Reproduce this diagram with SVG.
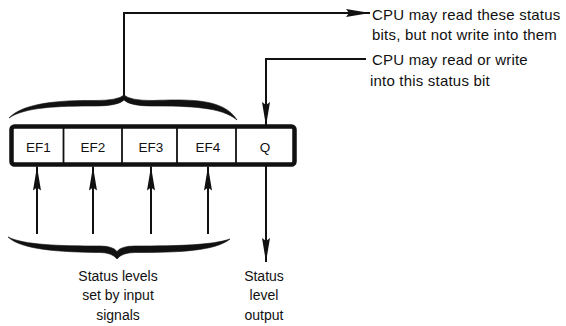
<svg xmlns="http://www.w3.org/2000/svg" width="566" height="326" viewBox="0 0 566 326">
<style>
  text { font-family: "Liberation Sans", Arial, sans-serif; fill: #111; }
  .cell { font-size: 13.5px; text-anchor: middle; }
  .lbl { font-size: 14px; }
  .rt { font-size: 15px; letter-spacing: 0.2px; }
  .mid { text-anchor: middle; }
  .wire { stroke: #111; stroke-width: 2; fill: none; }
  .brace { fill: #111; stroke: #111; stroke-width: 0.6; }
</style>
<defs>
  <marker id="ah" viewBox="0 0 24 8" refX="24" refY="4" markerWidth="24" markerHeight="8" markerUnits="userSpaceOnUse" orient="auto">
    <path d="M0,0 L24,4 L0,8 L3,4 Z" fill="#111"/>
  </marker>
</defs>
<rect width="566" height="326" fill="#fff"/>

<g id="register">
  <rect x="11.5" y="126.5" width="283" height="38" rx="3" fill="#fff" stroke="#111" stroke-width="4.5"/>
  <line x1="63.5" y1="128" x2="63.5" y2="163" stroke="#111" stroke-width="1.8"/>
  <line x1="122" y1="128" x2="122" y2="163" stroke="#111" stroke-width="1.8"/>
  <line x1="177" y1="128" x2="177" y2="163" stroke="#111" stroke-width="1.8"/>
  <line x1="236" y1="128" x2="236" y2="163" stroke="#111" stroke-width="1.8"/>
</g>
<g id="ef1"><text class="cell" x="38.5" y="152">EF1</text></g>
<g id="ef2"><text class="cell" x="93" y="152">EF2</text></g>
<g id="ef3"><text class="cell" x="151" y="152">EF3</text></g>
<g id="ef4"><text class="cell" x="208" y="152">EF4</text></g>
<g id="q"><text class="cell" x="265" y="152">Q</text></g>

<g id="top-brace">
  <path class="brace" d="M9,118 C22,104 55,100 95,100.5 Q118,100.5 124,95 Q130,100.5 152,100.5 C192,99 224,99 237,120 C222,107 190,106 152,106 Q130,106 124,100 Q118,106 95,106 C58,106 25,107 9,118 Z"/>
</g>
<g id="bottom-brace">
  <path class="brace" d="M8,237 C22,250 60,252 100,252.5 Q112,252.5 117,259 Q122,252.5 135,252.5 C180,252.5 215,251 230,239 C212,245 180,246 135,246 Q121,246 117,251.5 Q113,246 100,246 C60,246 24,245 8,237 Z"/>
</g>

<g id="connectors">
  <polyline class="wire" points="124,97 124,13 370,13" marker-end="url(#ah)"/>
  <polyline class="wire" points="366,59 266,59 266,126" marker-end="url(#ah)"/>
  <line class="wire" x1="37" y1="234" x2="37" y2="166.5" marker-end="url(#ah)"/>
  <line class="wire" x1="93" y1="234" x2="93" y2="166.5" marker-end="url(#ah)"/>
  <line class="wire" x1="151" y1="234" x2="151" y2="166.5" marker-end="url(#ah)"/>
  <line class="wire" x1="208" y1="234" x2="208" y2="166.5" marker-end="url(#ah)"/>
  <line class="wire" x1="266" y1="166" x2="266" y2="262" marker-end="url(#ah)"/>
</g>

<g id="label-read-only">
  <text class="rt" x="372" y="20">CPU may read these status</text>
  <text class="rt" x="372" y="40">bits, but not write into them</text>
</g>
<g id="label-read-write">
  <text class="rt" x="372" y="65">CPU may read or write</text>
  <text class="rt" x="370" y="86">into this status bit</text>
</g>
<g id="label-inputs">
  <text class="lbl mid" x="118" y="281">Status levels</text>
  <text class="lbl mid" x="118" y="300">set by input</text>
  <text class="lbl mid" x="118" y="320">signals</text>
</g>
<g id="label-output">
  <text class="lbl mid" x="264" y="281">Status</text>
  <text class="lbl mid" x="264" y="300">level</text>
  <text class="lbl mid" x="264" y="320">output</text>
</g>
</svg>
